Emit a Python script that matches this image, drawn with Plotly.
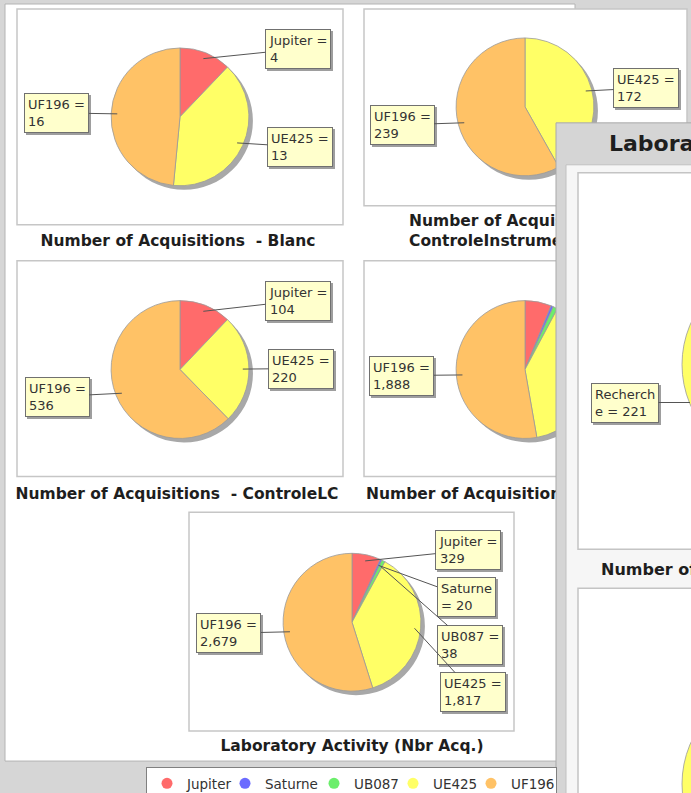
import math
import plotly.graph_objects as go

W, H = 691, 793
FIG_H = 800  # a few pixels taller than the window so the legend box runs off the bottom edge

# ---------------- data ----------------
sources = ["Jupiter", "Saturne", "UB087", "UE425", "UF196"]
blanc = [4, 0, 0, 13, 16]
controle_instrument = [0, 0, 0, 172, 239]
controle_lc = [104, 0, 0, 220, 536]
recherche = [221, 20, 38, 1412, 1888]
laboratory_total = [329, 20, 38, 1817, 2679]

jupiter_types = ["Blanc", "ControleLC", "Recherche"]
jupiter_by_type = [4, 104, 221]

chart_titles = [
    "Number of Acquisitions  - Blanc",
    "Number of Acquisitions  -<br>ControleInstrument",
    "Number of Acquisitions  - ControleLC",
    "Number of Acquisitions  - Recherche",
    "Laboratory Activity (Nbr Acq.)",
]
overlay_window_title = "Laboratory Activity"
overlay_chart_title = "Number of Acquisitions"

colors = {"Jupiter": "#FF6B6B", "Saturne": "#6B6BFF", "UB087": "#6BEE6B",
          "UE425": "#FFFF66", "UF196": "#FFC266"}

# ---------------- layout (pixel positions) ----------------
series = [blanc, controle_instrument, controle_lc, recherche, laboratory_total]
pie_pos = [(180, 117), (525, 107), (180, 370), (525, 370), (352, 623)]
R = 69
label_boxes = [
    {"Jupiter": (298, 49), "UE425": (300, 147), "UF196": (57, 113)},
    {"UE425": (646, 88), "UF196": (402, 125)},
    {"Jupiter": (298, 301), "UE425": (301, 369), "UF196": (57, 397)},
    {"UF196": (402, 376)},
    {"Jupiter": (468, 551), "Saturne": (466, 598), "UB087": (470, 646),
     "UE425": (473, 693), "UF196": (229, 634)},
]
title_pos = [(178, 242, "middle center"), (409, 232, "middle right"),
             (177, 496, "middle center"), (366, 496, "middle right"),
             (352, 748, "middle center")]
frames = [(17, 9, 343, 225), (364, 9, 687, 206), (17, 261, 343, 477),
          (364, 261, 687, 477), (189, 513, 514, 732)]
legend_widths = [33, 44, 34, 33, 40]

FONT = "DejaVu Sans"


def fx(px):
    return px / W


def fy(py):
    return 1 - py / FIG_H


fig = go.Figure()

shapes = []
# main panel
shapes.append(dict(type="rect", xref="x", yref="y", x0=5, y0=4, x1=575, y1=762,
                   fillcolor="white", line=dict(color="#b4b4b4", width=1), layer="below"))
for (x0, y0, x1, y1) in frames:
    shapes.append(dict(type="rect", xref="x", yref="y", x0=x0, y0=y0, x1=x1, y1=y1,
                       fillcolor="white", line=dict(color="#c6c6c6", width=1.5), layer="below"))

annotations = []

for vals, (cx, cy), boxes in zip(series, pie_pos, label_boxes):
    labs = [s for s, v in zip(sources, vals) if v > 0]
    vs = [v for v in vals if v > 0]
    total = sum(vs)
    # shadow
    fig.add_trace(go.Pie(
        values=[total], labels=["shadow"], sort=False,
        marker=dict(colors=["#a8a8a8"], line=dict(width=0)),
        textinfo="none", hoverinfo="skip", showlegend=False,
        domain=dict(x=[fx(cx - R + 4), fx(cx + R + 4)], y=[fy(cy + R + 4), fy(cy - R + 4)]),
    ))
    fig.add_trace(go.Pie(
        values=vs, labels=labs, sort=False, direction="clockwise", rotation=0,
        marker=dict(colors=[colors[l] for l in labs], line=dict(color="#9a9a9a", width=0.8)),
        textinfo="none", showlegend=False,
        domain=dict(x=[fx(cx - R), fx(cx + R)], y=[fy(cy + R), fy(cy - R)]),
    ))
    cum = 0
    for l, v in zip(labs, vs):
        th = 2 * math.pi * (cum + v / 2) / total
        cum += v
        if l not in boxes:
            continue
        px = cx + 0.91 * R * math.sin(th)
        py = cy - 0.91 * R * math.cos(th)
        bx, by = boxes[l]
        if l == "Saturne":
            txt = f"{l}<br>= {v:,}"
        else:
            txt = f"{l} =<br>{v:,}"
        common = dict(xref="x", yref="y", x=px, y=py, ax=bx - px, ay=by - py,
                      axref="pixel", ayref="pixel", text=txt, align="left",
                      showarrow=True, arrowhead=0, arrowwidth=1, borderpad=3, borderwidth=1)
        annotations.append(dict(common, bgcolor="#9e9e9e", bordercolor="#9e9e9e",
                                font=dict(family=FONT, size=13, color="rgba(0,0,0,0)"),
                                arrowcolor="rgba(0,0,0,0)", xshift=2, yshift=-2))
        annotations.append(dict(common, bgcolor="#FFFFCC", bordercolor="#707070",
                                font=dict(family=FONT, size=13, color="#333333"),
                                arrowcolor="#555555"))

# chart titles (drawn in cartesian layer, beneath the overlapping window)
fig.add_trace(go.Scatter(
    x=[p[0] for p in title_pos], y=[p[1] for p in title_pos], mode="text",
    text=[t.replace("  ", "\u00a0 ") for t in chart_titles],
    textposition=[p[2] for p in title_pos],
    textfont=dict(family=FONT, size=15.5, color="#1e1e1e", weight="bold"),
    hoverinfo="skip", showlegend=False,
))

# legend entries
for s, lw in zip(sources, legend_widths):
    fig.add_trace(go.Scatter(x=[None], y=[None], mode="markers", name=s, legendwidth=lw,
                             marker=dict(color=colors[s], size=11, symbol="circle")))

# overlapping window (drawn above)
shapes += [
    dict(type="rect", xref="x", yref="y", x0=556, y0=123, x1=720, y1=820,
         fillcolor="#d5d5d5", line=dict(color="#a9a9a9", width=1), layer="above"),
    dict(type="rect", xref="x", yref="y", x0=566, y0=165, x1=720, y1=820,
         fillcolor="#f6f6f6", line=dict(color="#c0c0c0", width=1), layer="above"),
    dict(type="rect", xref="x", yref="y", x0=578, y0=173, x1=720, y1=550,
         fillcolor="white", line=dict(color="#c4c4c4", width=1.5), layer="above"),
    dict(type="rect", xref="x", yref="y", x0=578, y0=589, x1=720, y1=820,
         fillcolor="white", line=dict(color="#c4c4c4", width=1.5), layer="above"),
    dict(type="circle", xref="x", yref="y", x0=682, y0=263, x1=886, y1=467,
         fillcolor="#FFFF66", line=dict(color="#9a9a9a", width=0.8), layer="above"),
    dict(type="circle", xref="x", yref="y", x0=682, y0=683, x1=886, y1=887,
         fillcolor="#FFFF66", line=dict(color="#9a9a9a", width=0.8), layer="above"),
]
annotations += [
    dict(xref="x", yref="y", x=607, y=144, xanchor="left", yanchor="middle",
         text=overlay_window_title, showarrow=False,
         font=dict(family=FONT, size=22, color="#1e1e1e", weight="bold")),
    dict(xref="x", yref="y", x=599, y=570, xanchor="left", yanchor="middle",
         text=overlay_chart_title, showarrow=False,
         font=dict(family=FONT, size=16, color="#1e1e1e", weight="bold")),
]
# overlay label: Recherche slice of Jupiter
rv = jupiter_by_type[jupiter_types.index("Recherche")]
for shadow in (True, False):
    annotations.append(dict(
        xref="x", yref="y", x=690, y=403, ax=-65, ay=0, axref="pixel", ayref="pixel",
        text=f"Recherch<br>e = {rv:,}", align="left", showarrow=True, arrowhead=0,
        arrowwidth=1, borderpad=3, borderwidth=1,
        bgcolor="#9e9e9e" if shadow else "#FFFFCC",
        bordercolor="#9e9e9e" if shadow else "#707070",
        arrowcolor="rgba(0,0,0,0)" if shadow else "#555555",
        xshift=2 if shadow else 0, yshift=-2 if shadow else 0,
        font=dict(family=FONT, size=13, color="rgba(0,0,0,0)" if shadow else "#333333"),
    ))

fig.update_layout(
    width=W, height=FIG_H, autosize=False,
    margin=dict(l=0, r=0, t=0, b=0, pad=0),
    paper_bgcolor="#d6d6d6", plot_bgcolor="rgba(0,0,0,0)",
    xaxis=dict(range=[0, W], visible=False, fixedrange=True, domain=[0, 1]),
    yaxis=dict(range=[FIG_H, 0], visible=False, fixedrange=True, domain=[0, 1]),
    shapes=shapes, annotations=annotations,
    showlegend=True,
    legend=dict(orientation="h", x=fx(146), xanchor="left", y=fy(768), yanchor="top",
                bgcolor="white", bordercolor="#808080", borderwidth=1,
                font=dict(family=FONT, size=13.5, color="#333333"), itemwidth=30),
)

fig.write_html("out.html", config={"displayModeBar": False},
               post_script="document.body.style.margin='0';document.body.style.overflow='hidden';")
